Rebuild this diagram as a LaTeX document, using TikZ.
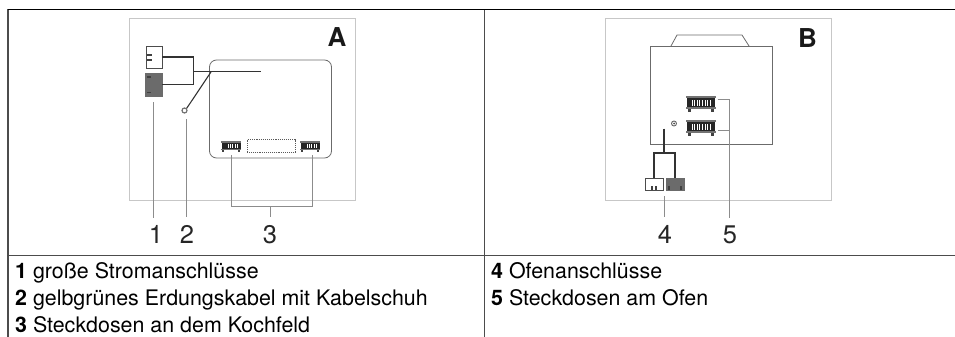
\documentclass[tikz,border=0pt]{standalone}
\usepackage{fontspec}
\setmainfont{TeX Gyre Heros}
\definecolor{frameg}{gray}{0.78}
\definecolor{leadg}{gray}{0.55}
\definecolor{panelg}{gray}{0.42}
\definecolor{plugd}{gray}{0.42}
\definecolor{wireg}{gray}{0.2}
\definecolor{rule}{gray}{0.3}
\tikzset{
  x=1pt,y=-1pt,
  frameline/.style={draw=frameg,line width=1pt},
  panelline/.style={draw=panelg,line width=0.8pt},
  leader/.style={draw=leadg,line width=0.7pt},
  wire/.style={draw=wireg,line width=1.4pt},
  rulethin/.style={draw=rule,line width=1pt},
  boxnode/.style={rectangle,inner sep=0pt,outer sep=0pt,anchor=north west},
  whiteplug/.style={boxnode,draw=black!70,fill=white,line width=0.7pt},
  darkplug/.style={boxnode,draw=plugd,fill=plugd,line width=0.5pt},
  legend/.style={inner sep=0pt,anchor=base west,font=\fontsize{21.4}{24}\selectfont},
  callout/.style={inner sep=0pt,anchor=base,font=\fontsize{25.5}{28}\selectfont,text=black!85},
  letter/.style={inner sep=0pt,anchor=base,font=\fontsize{26}{30}\selectfont\bfseries,text=black!90},
  pinmark/.style={fill=black!75,draw=none},
  pics/socket/.style={code={
    \fill[black!85] (1,2) rectangle (29,14);
    \fill[white] (4,5.5) rectangle (26,11);
    \foreach \i in {4,6.6,...,25}{\fill[black!85] (\i,5.5) rectangle ++(1.5,5.5);}
    \fill[black!55] (0,1) rectangle (30,3.2);
    \fill[black!55] (0,12.5) rectangle (30,14.5);
    \fill[black!75] (2,14) rectangle (5,17);
    \fill[black!75] (25,14) rectangle (28,17);
  }}
}
\begin{document}
\begin{tikzpicture}
\useasboundingbox (0,0) rectangle (955,337);
% table
\coordinate (tl) at (8,9.5); \coordinate (tr) at (955,9.5);
\coordinate (bl) at (8,337); \coordinate (ml) at (8,255.5); \coordinate (mr) at (955,255.5);
\coordinate (mt) at (484.5,9.5); \coordinate (mb) at (484.5,337);
\draw[rulethin,line width=1.3pt] (bl) -- (tl);
\draw[rulethin] (mt) -- (mb);
\draw[rulethin] (ml) -- (mr);
\draw[black,line width=1.5pt] (tl) -- (tr);
% frame A
\node[boxnode,frameline,minimum width=226,minimum height=181] (frameA) at (129,19) {};
\node[letter] (letA) at (337,47) {A};
% panel A
\draw[panelline,rounded corners=7pt] (209.5,60) rectangle (331.5,158);
% plugs A
\node[whiteplug,minimum width=16,minimum height=22] (plugAw) at (146,46) {};
\node[darkplug,minimum width=17,minimum height=23] (plugAd) at (145,73) {};
\fill[pinmark] (147,54) rectangle (152,56);
\fill[pinmark] (147,59.5) rectangle (152,61.5);
\fill[pinmark] (147,76) rectangle (151,77.5);
\fill[pinmark] (147,91.5) rectangle (151,93);
% wires A
\coordinate (wA1) at (193.5,71.5); \coordinate (wAend) at (261,71.5);
\coordinate (wAe) at (211,72);
\node[circle,draw=black!55,line width=1.2pt,minimum size=5pt,inner sep=0pt] (lugA) at (184.5,110.5) {};
\draw[wire] (plugAw.east) -| (193.5,84.5) -- (plugAd.east);
\draw[wire] (wA1) -- (wAend);
\draw[wire,line width=1.1pt] (wAe) -- (lugA.north east);
% sockets A
\pic[scale=0.68] at (221,140.5) {socket};
\pic[scale=0.68] at (300,140.5) {socket};
\draw[black!65,line width=0.9pt,densely dotted] (247,139.5) rectangle (295.5,152.7);
% leaders A
\node[callout] (n1) at (156,243.5) {1};
\node[callout] (n2) at (187,243.5) {2};
\node[callout] (n3) at (270,243.5) {3};
\coordinate (l1t) at (153.5,102); \coordinate (l1b) at (153.5,218);
\coordinate (l2t) at (186,119); \coordinate (l2b) at (186,217);
\draw[leader] (l1t) -- (l1b);
\draw[leader] (l2t) -- (l2b);
\coordinate (l3a) at (231.5,155); \coordinate (l3b) at (312.5,155);
\draw[leader] (l3a) -- (231.5,206) -- (312.5,206) -- (l3b);
\draw[leader] (270,206) -- (270,217);
% frame B
\node[boxnode,frameline,minimum width=226,minimum height=181] (frameB) at (605,19) {};
\node[letter] (letB) at (807.5,48) {B};
% panel B
\draw[panelline] (650.5,46) rectangle (772.5,144.5);
\draw[panelline] (671,46) -- (677,35) -- (742,35) -- (749,46);
% sockets B
\pic at (686,94.5) {socket};
\pic at (686,118.5) {socket};
% earth
\node[circle,draw=black!60,fill=white,line width=0.9pt,minimum size=5pt,inner sep=0pt] (earthB) at (674,123.5) {};
\fill[black!70] (674,123.5) circle (1);
% plugs B
\node[whiteplug,minimum width=18,minimum height=12] (plugBw) at (645,178) {};
\node[darkplug,minimum width=18,minimum height=12.5] (plugBd) at (666,178) {};
\fill[pinmark] (651,186) rectangle (653,190);
\fill[pinmark] (655,186) rectangle (657,190);
\fill[pinmark] (668,186) rectangle (670,190);
\fill[pinmark] (680,186) rectangle (682,190);
% wires B
\coordinate (wBt) at (664,128.5); \coordinate (wBj) at (664,153);
\draw[wire] (wBt) -- (wBj);
\draw[wire] (plugBw.north) |- (wBj) -| (plugBd.north);
% leaders B
\node[callout] (n4) at (665,243.5) {4};
\node[callout] (n5) at (730,243.5) {5};
\coordinate (l4t) at (664.5,196); \coordinate (l4b) at (664.5,217);
\draw[leader] (l4t) -- (l4b);
\coordinate (l5a) at (717.5,99); \coordinate (l5b) at (718,130.5); \coordinate (l5c) at (729.5,218);
\draw[leader] (l5a) -- (729.5,99) -- (l5c);
\draw[leader] (l5b) -- (729.5,130.5);
% legend
\node[legend] (t1) at (15,278.3) {\textbf{1} große Stromanschlüsse};
\node[legend] (t2) at (15,305) {\textbf{2} gelbgrünes Erdungskabel mit Kabelschuh};
\node[legend] (t3) at (15,332.6) {\textbf{3} Steckdosen an dem Kochfeld};
\node[legend] (t4) at (491,278.3) {\textbf{4} Ofenanschlüsse};
\node[legend] (t5) at (491,305) {\textbf{5} Steckdosen am Ofen};
\end{tikzpicture}
\end{document}
